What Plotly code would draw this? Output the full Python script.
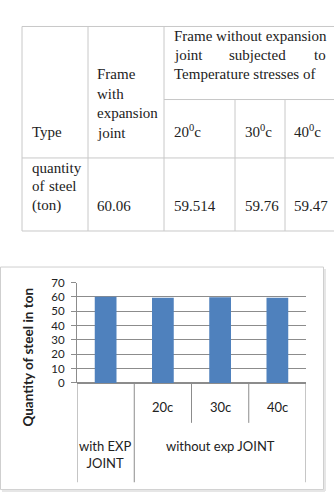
import plotly.graph_objects as go

# ---------------- data ----------------
table_row_header = ["quantity", "of steel", "(ton)"]
table_col_type = "Type"
table_col_with = ["Frame", "with", "expansion", "joint"]
table_col_without = ["Frame without expansion", "joint subjected to", "Temperature stresses of"]
temps = ["20<sup>0</sup>c", "30<sup>0</sup>c", "40<sup>0</sup>c"]
table_values = ["60.06", "59.514", "59.76", "59.47"]

categories = ["with EXP JOINT", "20c", "30c", "40c"]
sub_labels = ["", "20c", "30c", "40c"]
group_labels = ["with EXP<br>JOINT", "without exp JOINT"]
steel_qty = [60.06, 59.514, 59.76, 59.47]
y_ticks = [0, 10, 20, 30, 40, 50, 60, 70]
y_title = "Quantity of steel in ton"

W, H = 334, 498
def px(x):
    return x / W
def py(y):
    return 1 - y / H

SERIF = "Liberation Serif"
SANS = "Lato"
TXT = "#222222"
LINE = "#c8c8c8"

fig = go.Figure()
fig.add_trace(go.Bar(
    x=list(range(len(categories))), y=steel_qty, width=0.38,
    marker=dict(color="#4F81BD", line=dict(width=0)),
    hoverinfo="y", showlegend=False,
))

shapes = []
annotations = []

# ---------------- table ----------------
def hline(x0, x1, y):
    shapes.append(dict(type="line", xref="paper", yref="paper", x0=px(x0), x1=px(x1),
                       y0=py(y), y1=py(y), line=dict(color=LINE, width=1)))
def vline(x, y0, y1):
    shapes.append(dict(type="line", xref="paper", yref="paper", x0=px(x), x1=px(x),
                       y0=py(y0), y1=py(y1), line=dict(color=LINE, width=1)))

hline(22, 334, 20)
hline(164, 334, 95)
hline(22, 334, 155)
hline(22, 334, 230)
vline(22, 20, 230)
vline(88, 20, 230)
vline(164, 20, 230)
vline(235, 95, 230)
vline(285, 95, 230)

def txt(x, y, s, font=SERIF, size=15, anchor="left", color=TXT, **kw):
    annotations.append(dict(xref="paper", yref="paper", x=px(x), y=py(y), text=s,
                            showarrow=False, xanchor=anchor, yanchor="middle",
                            font=dict(family=font, size=size, color=color), **kw))

txt(30, 128, table_col_type)
for i, s in enumerate(table_col_with):
    txt(95, 69 + i * 20, s)
# justified header lines
txt(172, 30, table_col_without[0])
w2 = table_col_without[1].split(" ")
txt(172, 49, w2[0])
txt(257, 49, w2[1], anchor="center")
txt(328, 49, w2[2], anchor="right")
txt(172, 69, table_col_without[2])
for x, s in zip([172, 243, 292], temps):
    txt(x, 127, s)
txt(30, 165, table_row_header[0])
rw = table_row_header[1].split(" ")
txt(30, 184, rw[0])
txt(79, 184, rw[1], anchor="right")
txt(30, 204, table_row_header[2])
for x, s in zip([95, 172, 243, 292], table_values):
    txt(x, 204, s)

# ---------------- chart box ----------------
shapes.append(dict(type="rect", xref="paper", yref="paper", x0=px(0.5), x1=px(323.5), y0=py(495.5),
                   y1=py(267), line=dict(color="#cfcfcf", width=1)))
shapes.append(dict(type="line", xref="paper", yref="paper", x0=px(2), x1=px(325), y0=py(497),
                   y1=py(497), line=dict(color="#e6e6e6", width=2)))
shapes.append(dict(type="line", xref="paper", yref="paper", x0=px(325), x1=px(325), y0=py(269),
                   y1=py(497), line=dict(color="#e6e6e6", width=2)))

# category divider lines (in axis coordinates)
AX = "#8c8c8c"
n = len(categories)
for xv in [-0.5, 0.5, n - 0.5]:
    shapes.append(dict(type="line", xref="x", yref="paper", x0=xv, x1=xv, y0=py(386), y1=py(488),
                       line=dict(color=AX, width=1)))
for xv in [1.5, 2.5]:
    shapes.append(dict(type="line", xref="x", yref="paper", x0=xv, x1=xv, y0=py(386), y1=py(427),
                       line=dict(color=AX, width=1)))

for i, s in enumerate(sub_labels):
    if s:
        annotations.append(dict(xref="x", yref="paper", x=i, y=py(411), text=s, showarrow=False,
                                xanchor="center", yanchor="middle",
                                font=dict(family=SANS, size=13, color=TXT)))
annotations.append(dict(xref="x", yref="paper", x=0, y=py(460), text=group_labels[0], showarrow=False,
                        xanchor="center", yanchor="middle",
                        font=dict(family=SANS, size=13, color=TXT)))
annotations.append(dict(xref="x", yref="paper", x=2, y=py(451), text=group_labels[1], showarrow=False,
                        xanchor="center", yanchor="middle",
                        font=dict(family=SANS, size=13, color=TXT)))
annotations.append(dict(xref="paper", yref="paper", x=px(28), y=py(360), text="<b>" + y_title + "</b>",
                        showarrow=False, textangle=-90, xanchor="center", yanchor="middle",
                        font=dict(family=SANS, size=13.5, color=TXT)))

fig.update_layout(
    width=W, height=H, margin=dict(l=0, r=0, t=0, b=0),
    paper_bgcolor="white", plot_bgcolor="white",
    showlegend=False,
    xaxis=dict(domain=[px(77), px(306)], range=[-0.5, n - 0.5], showticklabels=False,
               showgrid=False, zeroline=False, showline=False, ticks="", fixedrange=True),
    yaxis=dict(domain=[py(386), py(283)], range=[0, 70], tickvals=y_ticks,
               showgrid=True, gridcolor=AX, gridwidth=1, zeroline=True, zerolinecolor=AX,
               showline=True, linecolor=AX, linewidth=1, ticks="outside", ticklen=5,
               tickcolor=AX, ticklabelstandoff=4,
               tickfont=dict(family=SANS, size=11.5, color=TXT), fixedrange=True),
    shapes=shapes, annotations=annotations,
    bargap=0.6,
)

fig.write_html("out.html")
